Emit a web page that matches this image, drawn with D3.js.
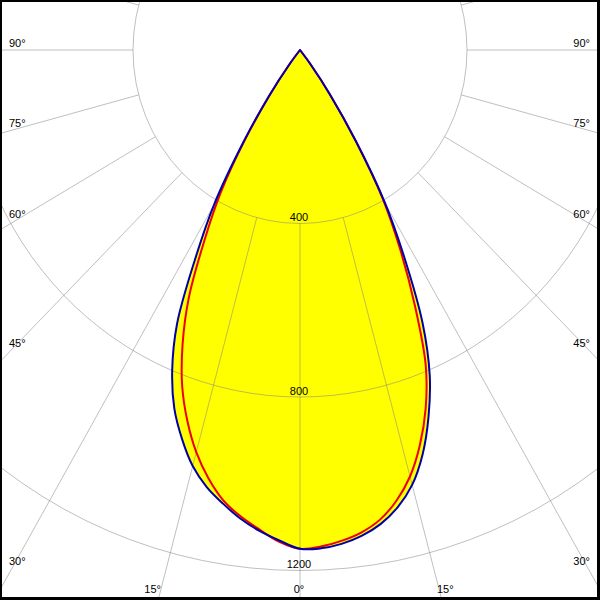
<!DOCTYPE html>
<html>
<head>
<meta charset="utf-8">
<script src="https://cdn.jsdelivr.net/npm/d3@7/dist/d3.min.js"></script>
<style>
  html, body { margin: 0; padding: 0; background: #fff; }
  svg { display: block; }
  text { font-family: "Liberation Sans", Arial, sans-serif; font-size: 11px; fill: #000; }
</style>
</head>
<body>
<svg id="chart" width="600" height="600"></svg>
<script>
// ---- data (cd/klm) ----
const gammaAngles = [0, 2.5, 5, 7.5, 10, 12.5, 15, 17.5, 20, 22.5, 25, 27.5, 30, 32.5, 35, 37.5, 40];
// C0 / C180 plane (blue)
const planeC0   = [1150, 1150, 1143, 1130, 1110, 1080, 1038, 977, 900, 812, 695, 545, 408, 250, 125, 40, 0];
const planeC180 = [1150, 1132, 1113, 1090, 1062, 1032, 993, 940, 880, 800, 697, 545, 412, 255, 130, 42, 0];
// C90 / C270 plane (red)
const planeC90  = [1150, 1146, 1136, 1122, 1100, 1065, 1018, 955, 880, 787, 652, 522, 398, 248, 125, 40, 0];
const planeC270 = [1150, 1135, 1110, 1085, 1055, 1012, 960, 897, 825, 735, 630, 497, 380, 245, 125, 42, 0];
// grid
const radiusTicks = [400, 800, 1200];
const angleTicks = [0, 15, 30, 45, 60, 75, 90];
const radialAngles = d3.range(0, 360, 15);

// ---- layout ----
const W = 600, H = 600;
const cx = 300, cy = 50;
const rX = d3.scaleLinear().domain([0, 1200]).range([0, 501]);
const rY = d3.scaleLinear().domain([0, 1200]).range([0, 520.5]);
const rad = d => d * Math.PI / 180;
// gamma measured from nadir (downwards), positive to the right
const px = (g, r) => cx + Math.sin(rad(g)) * rX(r);
const py = (g, r) => cy + Math.cos(rad(g)) * rY(r);

const svg = d3.select("#chart");
svg.append("rect").attr("width", W).attr("height", H).attr("fill", "#fff");

function planePoints(leftVals, rightVals) {
  const pts = [];
  for (let i = gammaAngles.length - 1; i >= 0; i--) pts.push([-gammaAngles[i], leftVals[i]]);
  for (let i = 1; i < gammaAngles.length; i++) pts.push([gammaAngles[i], rightVals[i]]);
  return pts;
}
const bluePts = planePoints(planeC180, planeC0);
const redPts = planePoints(planeC270, planeC90);

const lineGen = d3.line().x(d => px(d[0], d[1])).y(d => py(d[0], d[1])).curve(d3.curveCatmullRom.alpha(0.5));
const line = p => lineGen(p) + "Z";

// fills
[bluePts, redPts].forEach(p => {
  svg.append("path").attr("d", line(p)).attr("fill", "#ffff00").attr("stroke", "none");
});

// grid
const grid = svg.append("g").attr("fill", "none").attr("stroke", "#808080").attr("stroke-opacity", 0.5).attr("stroke-width", 1);
radiusTicks.forEach(r => {
  grid.append("ellipse").attr("cx", cx).attr("cy", cy).attr("rx", rX(r)).attr("ry", rY(r));
});
radialAngles.forEach(a => {
  grid.append("line")
    .attr("x1", px(a, radiusTicks[0])).attr("y1", py(a, radiusTicks[0]))
    .attr("x2", px(a, 3000)).attr("y2", py(a, 3000));
});

// radius labels
radiusTicks.forEach(r => {
  svg.append("text").attr("x", cx - 1).attr("y", cy + rY(r) - 2.5)
    .attr("text-anchor", "middle").text(r);
});

// curves
svg.append("path").attr("d", line(redPts)).attr("fill", "none").attr("stroke", "#ee0000").attr("stroke-width", 2).attr("stroke-linejoin", "round");
svg.append("path").attr("d", line(bluePts)).attr("fill", "none").attr("stroke", "#0000aa").attr("stroke-width", 2).attr("stroke-linejoin", "round");

// angle labels
const sideBaseline = {90: 46.5, 75: 126.5, 60: 218, 45: 347, 30: 565};
angleTicks.forEach(a => {
  if (a === 0) {
    svg.append("text").attr("x", cx - 1).attr("y", 593).attr("text-anchor", "middle").text(a + "°");
  } else if (a === 15) {
    const yb = 593;
    const t = (yb - 4 - cy) / (Math.cos(rad(a)) * rY(1));
    const xl = cx - Math.sin(rad(a)) * rX(1) * t;
    svg.append("text").attr("x", xl).attr("y", yb).attr("text-anchor", "end").text(a + "°");
    svg.append("text").attr("x", 2 * cx - xl - 2).attr("y", yb).attr("text-anchor", "start").text(a + "°");
  } else {
    const yb = sideBaseline[a];
    svg.append("text").attr("x", 9).attr("y", yb).attr("text-anchor", "start").text(a + "°");
    svg.append("text").attr("x", 590).attr("y", yb).attr("text-anchor", "end").text(a + "°");
  }
});

// frame
svg.append("path").attr("d", "M0,0H600V600H0Z M2,2V597H597V2Z").attr("fill", "#000").attr("fill-rule", "evenodd");
</script>
</body>
</html>
